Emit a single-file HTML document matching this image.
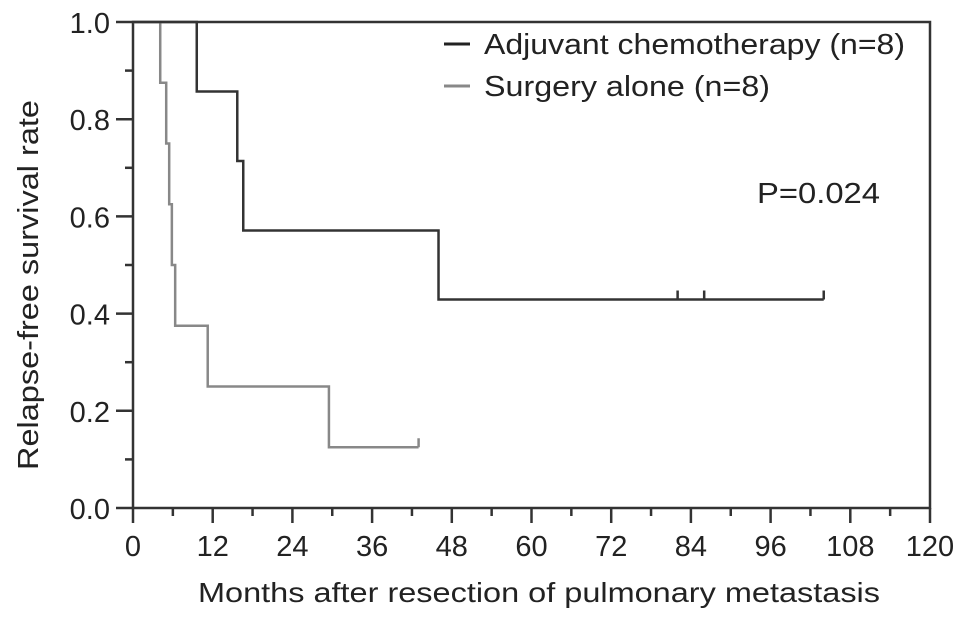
<!DOCTYPE html>
<html><head><meta charset="utf-8"><style>
html,body{margin:0;padding:0;background:#fff;}
svg{display:block;font-family:"Liberation Sans",Arial,sans-serif;}
</style></head><body>
<svg id="chart" width="969" height="622" viewBox="0 0 969 622">
<g id="axes"></g><g id="series"></g>
<text x="0" y="0" transform="translate(38 285) rotate(-90)" font-size="29" fill="#222" text-anchor="middle" textLength="370" lengthAdjust="spacingAndGlyphs">Relapse-free survival rate</text>
<text x="539" y="602" font-size="28" fill="#222" text-anchor="middle" textLength="682" lengthAdjust="spacingAndGlyphs">Months after resection of pulmonary metastasis</text>
<g>
<line x1="444" y1="44" x2="470" y2="44" stroke="#222" stroke-width="3"/>
<text x="484" y="54" font-size="29" fill="#222" textLength="421" lengthAdjust="spacingAndGlyphs">Adjuvant chemotherapy (n=8)</text>
<line x1="444" y1="86" x2="470" y2="86" stroke="#888" stroke-width="3"/>
<text x="484" y="96" font-size="29" fill="#222" textLength="286" lengthAdjust="spacingAndGlyphs">Surgery alone (n=8)</text>
</g>
<text x="757" y="203" font-size="29" fill="#222" textLength="123" lengthAdjust="spacingAndGlyphs">P=0.024</text>
</svg>
<script>
const xTicks=[0,12,24,36,48,60,72,84,96,108,120];
const yTicks=[0,0.2,0.4,0.6,0.8,1.0];
const yTickLabels=["0.0","0.2","0.4","0.6","0.8","1.0"];
const adjTimes=[0,9.6,15.7,16.6,46,104];
const adjSurv=[1,0.857,0.714,0.571,0.429,0.429];
const adjCensor=[82,86,104];
const adjCensorSurv=[0.429,0.429,0.429];
const surTimes=[0,4.1,5.0,5.45,5.85,6.35,11.25,29.5,43];
const surSurv=[1,0.875,0.75,0.625,0.5,0.375,0.25,0.125,0.125];
const surCensor=[43];
const surCensorSurv=[0.125];

const X0=133,X1=930,Y0=508,Y1=22;
const xs=v=>X0+(v/120)*(X1-X0);
const ys=v=>Y0-v*(Y0-Y1);
const NS="http://www.w3.org/2000/svg";
function mk(tag,attrs,parent){const e=document.createElementNS(NS,tag);for(const k in attrs)e.setAttribute(k,attrs[k]);parent.appendChild(e);return e;}
const axes=document.getElementById('axes');
let fr=mk('path',{d:`M${X0},${Y1}H${X1}V${Y0}H${X0}Z`,fill:'none',stroke:'#333','stroke-width':2.5},axes);


xTicks.forEach((t,i)=>{
  const x=xs(t);
  let l=mk('line',{x1:x,y1:Y0,x2:x,y2:Y0+15,stroke:'#333','stroke-width':2.5},axes);
  
  
  if(i<xTicks.length-1){let m=mk('line',{x1:xs(t+6),y1:Y0,x2:xs(t+6),y2:Y0+8,stroke:'#333','stroke-width':2.5},axes);
  
  }
  let tx=mk('text',{x:x,y:556,'font-size':29,fill:'#222','text-anchor':'middle'},axes);tx.textContent=t;
  
  
});
yTicks.forEach((t,i)=>{
  const y=ys(t);
  let l=mk('line',{x1:X0-17,y1:y,x2:X0,y2:y,stroke:'#333','stroke-width':2.5},axes);
  
  
  if(i<yTicks.length-1){let m=mk('line',{x1:X0-8,y1:ys(t+0.1),x2:X0,y2:ys(t+0.1),stroke:'#333','stroke-width':2.5},axes);
  
  }
  let tx=mk('text',{x:110,y:y+11,'font-size':29,fill:'#222','text-anchor':'end'},axes);tx.textContent=yTickLabels[i];
  
  
});
const ser=document.getElementById('series');
function km(times,surv,ct,cs,color,name){
  let d=`M${xs(times[0])},${ys(surv[0])}`;
  for(let i=1;i<times.length;i++){d+=`H${xs(times[i])}V${ys(surv[i])}`;}
  let p=mk('path',{d:d,fill:'none',stroke:color,'stroke-width':2.5},ser);
  
  
  ct.forEach((c,i)=>{let m=mk('line',{x1:xs(c),y1:ys(cs[i]),x2:xs(c),y2:ys(cs[i])-9,stroke:color,'stroke-width':2.5},ser);
  
  });
}
km(surTimes,surSurv,surCensor,surCensorSurv,'#888','surgery-alone');
km(adjTimes,adjSurv,adjCensor,adjCensorSurv,'#333','adjuvant-chemotherapy');
</script>
</body></html>
